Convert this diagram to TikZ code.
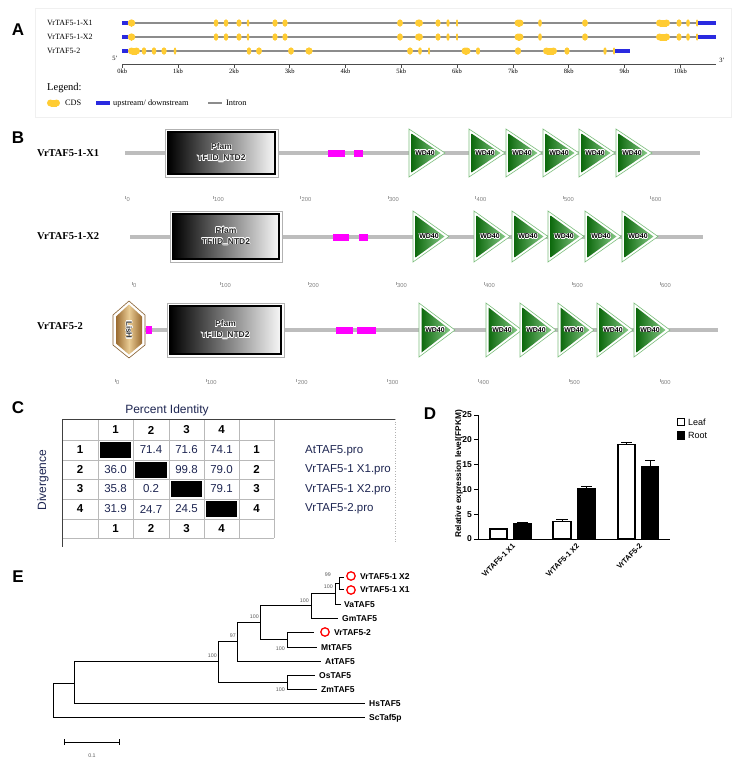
\documentclass[tikz,border=0pt]{standalone}
\usepackage{fontspec}
\setmainfont{Liberation Serif}
\setsansfont{Liberation Sans}
\usepackage[copies]{contour}
\contourlength{0.5pt}
\definecolor{cds}{HTML}{FFCC33}
\definecolor{updown}{HTML}{2A2AE0}
\definecolor{intron}{HTML}{8C8C8C}
\definecolor{protline}{HTML}{BDBDBD}
\definecolor{motif}{HTML}{FF00FF}
\definecolor{wddark}{HTML}{0E6A0E}
\definecolor{wdlight}{HTML}{86C986}
\definecolor{wdedge}{HTML}{7DBF7D}
\definecolor{navy}{HTML}{1E2652}
\definecolor{lishdark}{HTML}{9A6A30}
\definecolor{lishlight}{HTML}{E9CC94}
\newcommand\exon[3]{%
  \pgfmathsetmacro\exr{min(#3/2,3.5)}%
  \fill[cds] (#1-#3/2+\exr,#2-3.5) rectangle (#1+#3/2-\exr,#2+3.5);
  \fill[cds] (#1-#3/2+\exr,#2) ellipse [x radius=\exr, y radius=3.5];
  \fill[cds] (#1+#3/2-\exr,#2) ellipse [x radius=\exr, y radius=3.5];
}
\newcommand\pfambox[5]{%
  \filldraw[draw=gray!60, fill=white, line width=0.5pt] (#2,#3) rectangle (#4,#5);
  \shade[left color=black, right color=white!94!gray] (#2+3,#3+3) rectangle (#4-3,#5-3);
  \draw[black, line width=1.2pt] (#2+3,#3+3) rectangle (#4-3,#5-3);
  \node[pfamtxt] (#1) at ({(#2+#4)/2},{(#3+#5)/2}) {\contour{white}{Pfam}\\[2pt]\contour{white}{TFIID\_NTD2}};
}
\newcommand\wdtri[4]{%
  \filldraw[draw=wdedge, fill=white, line width=0.6pt] (#2,#3) -- (#2+36,{(#3+#4)/2}) -- (#2,#4) -- cycle;
  \shade[left color=wddark, right color=wdlight] (#2+2.5,#3+4.5) -- (#2+31.5,{(#3+#4)/2}) -- (#2+2.5,#4-4.5) -- cycle;
  \node[wdtxt] (#1) at (#2+16,{(#3+#4)/2}) {\contour{white}{WD40}};
}
\newcommand\aascale[3]{%
  \foreach \k/\t in {0/0,1/100,2/200,3/300,4/400,5/500,6/600}{
    \draw[gray!70, line width=0.4pt] ({#2+\k*#3},#1-3) -- ({#2+\k*#3},#1);
    \node[aatick] (s#1n\k) at ({#2+\k*#3+1},#1) {\t};
  }%
}
\begin{document}
\begin{tikzpicture}[x=1pt,y=-1pt,
  every node/.style={inner sep=0pt},
  panel/.style={font=\fontsize{17}{17}\selectfont\sffamily\bfseries},
  genelab/.style={font=\fontsize{8}{9}\selectfont, anchor=west},
  kb/.style={font=\fontsize{6.5}{7}\selectfont},
  leg/.style={font=\fontsize{8.3}{9}\selectfont, anchor=west},
  protlab/.style={font=\fontsize{10.5}{11}\selectfont\bfseries, anchor=west},
  pfamtxt/.style={font=\fontsize{8.5}{9}\selectfont\sffamily\bfseries, align=center, text=black!85},
  wdtxt/.style={font=\fontsize{7}{7}\selectfont\sffamily\bfseries},
  aatick/.style={font=\fontsize{5.8}{6}\selectfont\sffamily, text=gray, anchor=west},
  tabnum/.style={font=\fontsize{11.5}{12}\selectfont\sffamily, text=navy},
  tabhd/.style={font=\fontsize{11.5}{12}\selectfont\sffamily\bfseries},
  tablab/.style={font=\fontsize{11.5}{12}\selectfont\sffamily, text=navy, anchor=west},
  chart/.style={font=\fontsize{8.5}{9}\selectfont\sffamily\bfseries},
  treelab/.style={font=\fontsize{8.5}{9}\selectfont\sffamily\bfseries, anchor=west},
  boot/.style={font=\fontsize{5.3}{6}\selectfont\sffamily, text=black!65},
  br/.style={line width=0.9pt},
  redring/.style={draw=red, line width=1.3pt}]
\useasboundingbox[fill=white] (0,0) rectangle (740,764);

% ---------------- Panel A ----------------
\draw[gray!12, line width=0.8pt] (35,8) rectangle (731,117);
\node[panel] (pA) at (18,30) {A};
\node[genelab] (g1) at (47,23) {VrTAF5-1-X1};
\node[genelab] (g2) at (47,37) {VrTAF5-1-X2};
\node[genelab] (g3) at (47,51) {VrTAF5-2};
\foreach \gy in {23,37}{
  \draw[intron, line width=1.3pt] (128,\gy) -- (697,\gy);
  \fill[updown] (122,\gy-2.3) rectangle (128,\gy+2.3);
  \fill[updown] (697,\gy-2.3) rectangle (716,\gy+2.3);
  \foreach \cx/\w in {131.5/7.5,216/4.5,226/4.5,239/5,248/2.5,275/5,285/5,400/5.5,419/8,438/5,448/3,457/2,519/9,540/3.5,585/5.5,663/14,679/5,688/3.5,697/2}{
    \exon{\cx}{\gy}{\w}
  }
}
\draw[intron, line width=1.3pt] (128,51) -- (615,51);
\fill[updown] (122,48.7) rectangle (128,53.3);
\fill[updown] (615,48.7) rectangle (630,53.3);
\foreach \cx/\w in {134/12,144/4.5,154/4.5,164/5,175/2.5,249/4.5,259/5.5,291/5.5,309/7,410/5.5,420/3.5,429/2,466/9,478/4,518/6,550/14,567/5,605/3,614/2}{
  \exon{\cx}{51}{\w}
}
\draw[black!70, line width=0.6pt] (122,64) -- (716,64);
\foreach \k in {0,...,10}{
  \draw[black!70, line width=0.6pt] (122.3+55.8*\k,64) -- (122.3+55.8*\k,68);
  \node[kb] (kb\k) at (122.3+55.8*\k,71.5) {\k kb};
}
\node[kb] (p5) at (115,58) {5'};
\node[kb] (p3) at (722,60) {3'};
\node[font=\fontsize{10.5}{11}\selectfont, anchor=west] (legend) at (47,88) {Legend:};
\exon{53.5}{103}{13}
\node[leg] (lcds) at (65,103) {CDS};
\fill[updown] (96,101) rectangle (110,105);
\node[leg] (lud) at (113,103) {upstream/ downstream};
\draw[intron, line width=1.2pt] (208,103) -- (222,103);
\node[leg] (lint) at (226,103) {Intron};

% ---------------- Panel B ----------------
\node[panel] (pB) at (18,138) {B};
% row 1
\node[protlab] (b1) at (37,153) {VrTAF5-1-X1};
\draw[protline, line width=4pt] (125,153) -- (700,153);
\pfambox{pf1}{165}{129}{278}{177}
\fill[motif] (328,149.5) rectangle (345,156.5);
\fill[motif] (354,149.5) rectangle (363,156.5);
\foreach \x [count=\i] in {409,469,506,543,579,616}{ \wdtri{wa\i}{\x}{129}{177} }
\aascale{199}{125.5}{87.5}
% row 2
\node[protlab] (b2) at (37,236) {VrTAF5-1-X2};
\draw[protline, line width=4pt] (130,237) -- (703,237);
\pfambox{pf2}{170}{211}{282}{262}
\fill[motif] (333,233.5) rectangle (349,240.5);
\fill[motif] (359,233.5) rectangle (368,240.5);
\foreach \x [count=\i] in {413,474,512,548,585,622}{ \wdtri{wb\i}{\x}{211}{262} }
\aascale{285}{132}{88}
% row 3
\node[protlab] (b3) at (37,326) {VrTAF5-2};
\draw[protline, line width=4pt] (113,330) -- (718,330);
\filldraw[draw=lishdark!85!black, fill=white, line width=0.6pt] (129,301) -- (145,315) -- (145,345) -- (129,358) -- (113,345) -- (113,315) -- cycle;
\shade[left color=lishdark, right color=lishdark, middle color=lishlight] (129,304.5) -- (142,316.5) -- (142,343.5) -- (129,354.5) -- (116,343.5) -- (116,316.5) -- cycle;
\node[font=\fontsize{8}{8}\selectfont\sffamily\bfseries, text=black!80, rotate=-90] (lish) at (129,330) {\contour{white}{LisH}};
\fill[motif] (146,326) rectangle (152,334);
\pfambox{pf3}{167}{303}{284}{357}
\fill[motif] (336,326.5) rectangle (353,333.5);
\fill[motif] (357,326.5) rectangle (376,333.5);
\foreach \x [count=\i] in {419,486,520,558,597,634}{ \wdtri{wc\i}{\x}{303}{357} }
\aascale{382}{115}{90.8}

% ---------------- Panel C ----------------
\node[panel] (pC) at (18,408) {C};
\node[font=\fontsize{12}{12}\selectfont\sffamily, text=navy] (pid) at (167,410) {Percent Identity};
\foreach \yy in {440,460,479,499,519,538} \draw[gray!55, line width=0.5pt] (62,\yy) -- (274,\yy);
\foreach \xx in {98,133,169,204,239,274} \draw[gray!55, line width=0.5pt] (\xx,419) -- (\xx,538);
\draw[black!75, line width=0.9pt] (62,419) -- (395,419);
\draw[black!75, line width=0.9pt] (62,419) -- (62,547);
\draw[gray!60, dotted, line width=0.6pt] (395,419) -- (395,543);
\node[font=\fontsize{12}{12}\selectfont\sffamily, text=navy, rotate=90] (div) at (43,480) {Divergence};
\foreach \c/\xc in {1/115.5,2/151,3/186.5,4/221.5}{
  \node[tabhd] (th\c) at (\xc,430) {\c};
  \node[tabhd] (tf\c) at (\xc,528.5) {\c};
}
\foreach \r/\yc in {1/450,2/469.5,3/489,4/509}{
  \node[tabhd] (rl\r) at (80,\yc) {\r};
  \node[tabhd] (rr\r) at (256.5,\yc) {\r};
}
\fill[black] (100,442) rectangle (131,458);
\fill[black] (135,461.5) rectangle (167,477.5);
\fill[black] (171,481) rectangle (202,497);
\fill[black] (206,501) rectangle (237,517);
\node[tabnum] (c12) at (151,450) {71.4};
\node[tabnum] (c13) at (186.5,450) {71.6};
\node[tabnum] (c14) at (221.5,450) {74.1};
\node[tabnum] (c21) at (115.5,469.5) {36.0};
\node[tabnum] (c23) at (186.5,469.5) {99.8};
\node[tabnum] (c24) at (221.5,469.5) {79.0};
\node[tabnum] (c31) at (115.5,489) {35.8};
\node[tabnum] (c32) at (151,489) {0.2};
\node[tabnum] (c34) at (221.5,489) {79.1};
\node[tabnum] (c41) at (115.5,509) {31.9};
\node[tabnum] (c42) at (151,509) {24.7};
\node[tabnum] (c43) at (186.5,509) {24.5};
\node[tablab] (n1) at (305,451) {AtTAF5.pro};
\node[tablab] (n2) at (305,470) {VrTAF5-1 X1.pro};
\node[tablab] (n3) at (305,490) {VrTAF5-1 X2.pro};
\node[tablab] (n4) at (305,509) {VrTAF5-2.pro};

% ---------------- Panel D ----------------
\node[panel] (pD) at (430,414) {D};
\draw[line width=1pt] (478,415) -- (478,539) -- (670,539);
\foreach \v in {0,5,10,15,20,25}{
  \draw[line width=1pt] (474,{539-4.96*\v}) -- (478,{539-4.96*\v});
  \node[chart, anchor=east] (yt\v) at (472,{539-4.96*\v}) {\v};
}
\node[font=\fontsize{8.3}{8.5}\selectfont\sffamily\bfseries, rotate=90] (ylab) at (459,474) {Relative expression level(FPKM)};
\foreach \xa/\xb/\val/\err/\col [count=\i] in {490/507/2.0/2.2/white, 514/531/3.1/3.4/black, 553/571/3.5/3.9/white, 578/595/10.1/10.5/black, 618/635/19.0/19.5/white, 642/658/14.6/15.9/black}{
  \draw[line width=1pt] ({(\xa+\xb)/2},{539-4.96*\val}) -- ({(\xa+\xb)/2},{539-4.96*\err});
  \draw[line width=1pt] ({\xa+3},{539-4.96*\err}) -- ({\xb-3},{539-4.96*\err});
  \filldraw[fill=\col, draw=black, line width=1.2pt] (\xa,539) rectangle (\xb,{539-4.96*\val});
}
\node[font=\fontsize{7.5}{8}\selectfont\sffamily\bfseries, rotate=45, anchor=east] (x1) at (514,545) {VrTAF5-1 X1};
\node[font=\fontsize{7.5}{8}\selectfont\sffamily\bfseries, rotate=45, anchor=east] (x2) at (578,545) {VrTAF5-1 X2};
\node[font=\fontsize{7.5}{8}\selectfont\sffamily\bfseries, rotate=45, anchor=east] (x3) at (641,545) {VrTAF5-2};
\filldraw[fill=white, draw=black, line width=1pt] (677,418) rectangle (684,425.5);
\node[font=\fontsize{9}{9}\selectfont\sffamily, anchor=west] (leaf) at (688,422) {Leaf};
\filldraw[fill=black, draw=black, line width=1pt] (677,431.5) rectangle (684,439);
\node[font=\fontsize{9}{9}\selectfont\sffamily, anchor=west] (root) at (688,435.5) {Root};

% ---------------- Panel E ----------------
\node[panel] (pE) at (18,577) {E};
\draw[br] (53,683) -- (53,717);
\draw[br] (53,683) -- (74,683);
\draw[br] (53,717) -- (365,717);
\node[treelab] (sc) at (369,718) {ScTaf5p};
\draw[br] (74,661) -- (74,703);
\draw[br] (74,703) -- (365,703);
\node[treelab] (hs) at (369,704) {HsTAF5};
\draw[br] (74,661) -- (218,661);
\draw[br] (218,641) -- (218,682);
\draw[br] (218,641) -- (237,641);
\draw[br] (218,682) -- (287,682);
\node[boot, anchor=south east] (bs1) at (217,658) {100};
\draw[br] (237,622) -- (237,661);
\draw[br] (237,661) -- (321,661);
\node[treelab] (at) at (325,662) {AtTAF5};
\draw[br] (237,622) -- (260,622);
\node[boot, anchor=south east] (bs2) at (236,638) {97};
\draw[br] (260,605) -- (260,639);
\draw[br] (260,605) -- (311,605);
\draw[br] (260,639) -- (287,639);
\node[boot, anchor=south east] (bs3) at (259,619) {100};
\draw[br] (287,632) -- (287,647);
\draw[br] (287,632) -- (314,632);
\draw[redring] (325,632) circle [radius=4.2];
\node[treelab] (vr2) at (334,633) {VrTAF5-2};
\draw[br] (287,647) -- (317,647);
\node[treelab] (mt) at (321,648) {MtTAF5};
\node[boot, anchor=east] (bs4) at (285,649) {100};
\draw[br] (287,675) -- (287,689);
\draw[br] (287,675) -- (315,675);
\node[treelab] (os) at (319,676) {OsTAF5};
\draw[br] (287,689) -- (317,689);
\node[treelab] (zm) at (321,690) {ZmTAF5};
\node[boot, anchor=east] (bs5) at (285,690) {100};
\draw[br] (311,593) -- (311,618);
\draw[br] (311,593) -- (335,593);
\draw[br] (311,618) -- (338,618);
\node[treelab] (gm) at (342,619) {GmTAF5};
\node[boot, anchor=south east] (bs6) at (309,603) {100};
\draw[br] (335,583) -- (335,604);
\draw[br] (335,583) -- (339,583);
\draw[br] (335,604) -- (341,604);
\node[treelab] (va) at (344,605) {VaTAF5};
\node[boot, anchor=east] (bs7) at (333,587) {100};
\draw[br] (339,577) -- (339,589);
\draw[br] (339,577) -- (344,577);
\draw[br] (339,589) -- (344,589);
\node[boot, anchor=east] (bs8) at (331,575) {99};
\draw[redring] (351,576) circle [radius=4.2];
\node[treelab] (vx2) at (360,577) {VrTAF5-1 X2};
\draw[redring] (351,590) circle [radius=4.2];
\node[treelab] (vx1) at (360,590) {VrTAF5-1 X1};
\draw[br] (64,742) -- (119,742);
\draw[br] (64,739) -- (64,745);
\draw[br] (119,739) -- (119,745);
\node[boot] (sb) at (92,756) {0.1};
\end{tikzpicture}
\end{document}
